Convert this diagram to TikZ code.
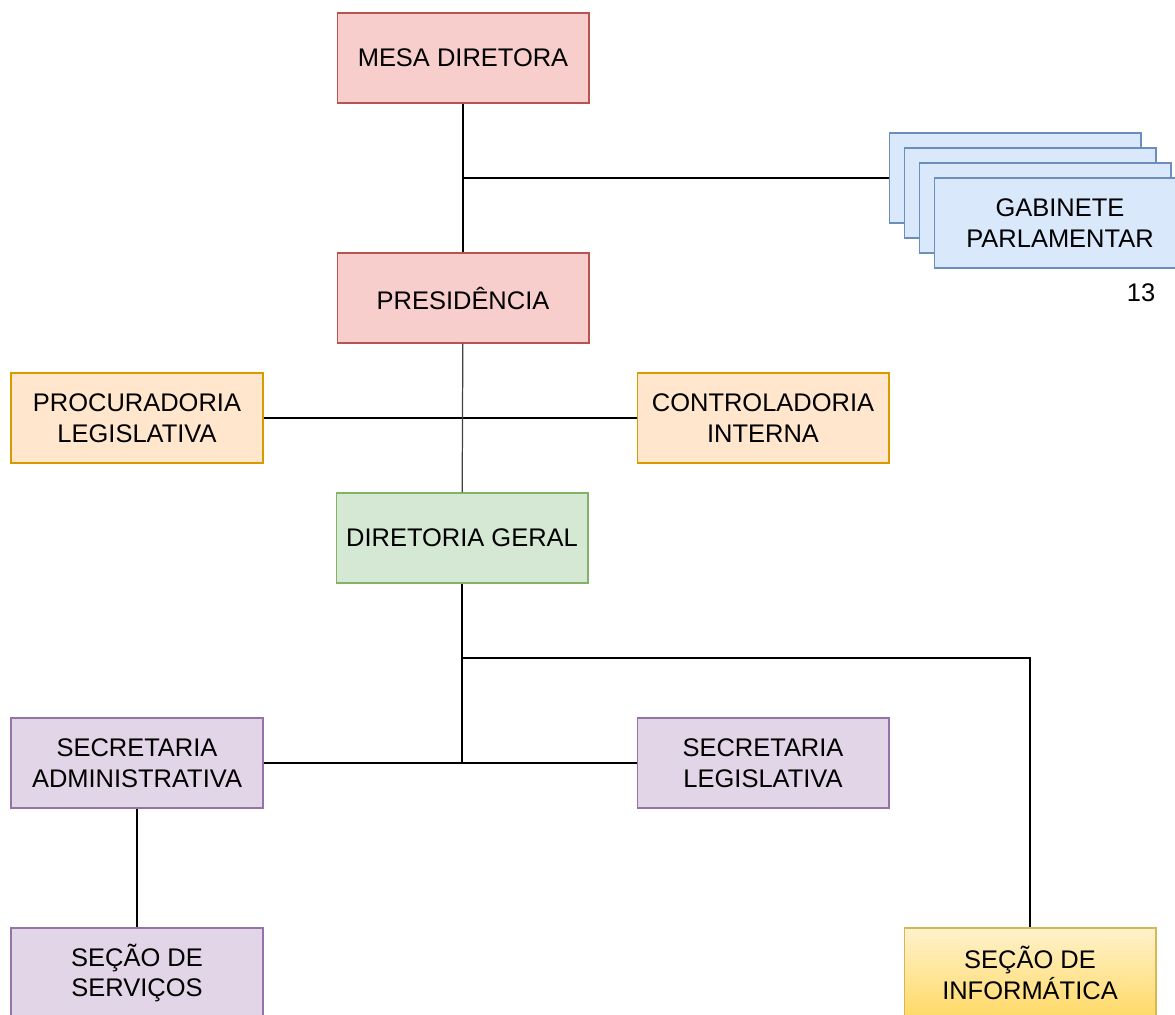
\documentclass[tikz,border=0pt]{standalone}
\usepackage{fontspec}
\setmainfont{Liberation Sans}
\begin{document}
\begin{tikzpicture}[
    x=0.02cm, y=-0.02cm,
    unit/.style={rectangle, draw=black, fill=white,
        minimum width=5.04cm, minimum height=1.8cm, align=center,
        font=\fontsize{14.5}{17.5}\selectfont, inner sep=1pt, line width=0.6pt},
    link/.style={line width=0.7pt, draw=black},
]
\definecolor{redfill}{HTML}{F8CECC}
\definecolor{redline}{HTML}{B85450}
\definecolor{orangefill}{HTML}{FFE6CC}
\definecolor{orangeline}{HTML}{D79B00}
\definecolor{greenfill}{HTML}{D5E8D4}
\definecolor{greenline}{HTML}{82B366}
\definecolor{purplefill}{HTML}{E1D5E7}
\definecolor{purpleline}{HTML}{9673A6}
\definecolor{bluefill}{HTML}{DAE8FC}
\definecolor{blueline}{HTML}{6C8EBF}
\definecolor{yellowtop}{HTML}{FFF2CC}
\definecolor{yellowbot}{HTML}{FFD966}
\definecolor{yellowline}{HTML}{D6B656}
  \useasboundingbox (0,0) rectangle (1175,1014);
  % organograma da camara
  \node[unit, fill=redfill, draw=redline] (u_mesa) at (463, 58) {MESA DIRETORA};
  \node[unit, fill=redfill, draw=redline] (u_pres) at (463, 298) {PRESIDÊNCIA};
  \node[unit, fill=orangefill, draw=orangeline] (u_proc) at (137, 418) {PROCURADORIA\\LEGISLATIVA};
  \node[unit, fill=orangefill, draw=orangeline] (u_ctrl) at (763, 418) {CONTROLADORIA\\INTERNA};
  \node[unit, fill=greenfill, draw=greenline] (u_dger) at (462, 538) {DIRETORIA GERAL};
  \node[unit, fill=purplefill, draw=purpleline] (u_sadm) at (137, 763) {SECRETARIA\\ADMINISTRATIVA};
  \node[unit, fill=purplefill, draw=purpleline] (u_sleg) at (763, 763) {SECRETARIA\\LEGISLATIVA};
  \node[unit, fill=purplefill, draw=purpleline] (u_serv) at (137, 973) {SEÇÃO DE\\SERVIÇOS};
  \node[unit, top color=yellowtop, bottom color=yellowbot, draw=yellowline] (u_info) at (1030, 973) {SEÇÃO DE\\INFORMÁTICA};
  % gabinetes (pilha)
  \node[unit, fill=bluefill, draw=blueline] (u_gab_0) at (1015, 178) {};
  \node[unit, fill=bluefill, draw=blueline] (u_gab_1) at (1030, 193) {};
  \node[unit, fill=bluefill, draw=blueline] (u_gab_2) at (1045, 208) {};
  \node[unit, fill=bluefill, draw=blueline] (u_gab_3) at (1060, 223) {GABINETE\\PARLAMENTAR};
  \node[font=\fontsize{14.5}{17.5}\selectfont] (l_gab) at (1141, 293) {13};
  % ligacoes
  \coordinate (j_gab) at (463, 178);
  \coordinate (j_info) at (462, 658);
  \coordinate (j_sec) at (462, 763);
  \draw[link] (u_mesa) -- (u_pres);
  \draw[link] (j_gab) -- (u_gab_0.west);
  \draw[link] (u_proc) -- (u_ctrl);
  \draw[link, draw=black!75] (u_pres) -- (u_dger);
  \draw[link] (u_dger) -- (j_sec);
  \draw[link] (u_sadm) -- (u_sleg);
  \draw[link] (j_info) -| (u_info);
  \draw[link] (u_sadm) -- (u_serv);
\end{tikzpicture}
\end{document}
